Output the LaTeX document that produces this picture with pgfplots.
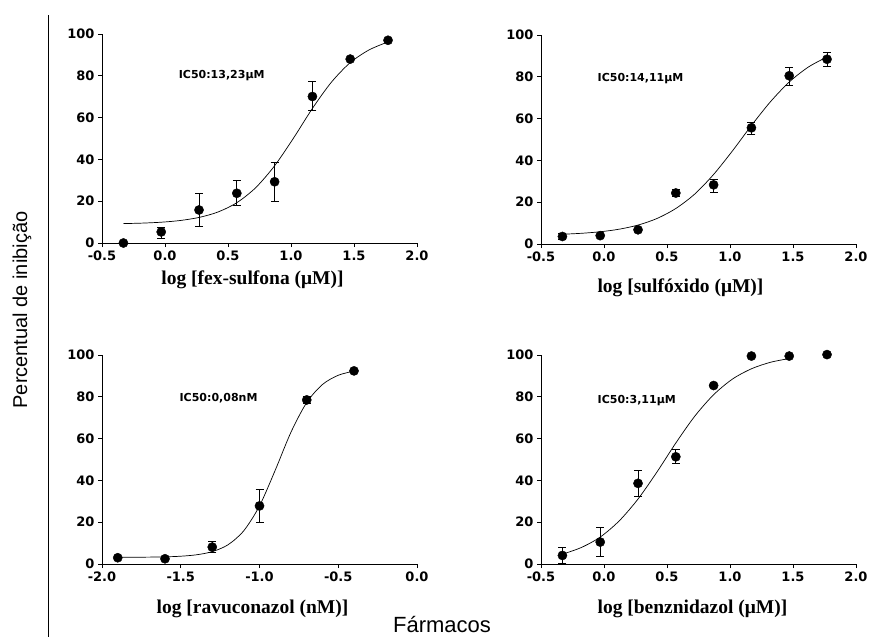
\documentclass[border=0pt]{standalone}
\usepackage{fontspec}
\setmainfont{Liberation Sans}
\newfontfamily\dvs{DejaVu Sans}
\newfontfamily\lserif{Liberation Serif}
\usepackage{pgfplots}
\pgfplotsset{compat=1.18}

\pgfplotsset{
  panel/.style={
    scale only axis, width=315pt, height=209pt,
    axis x line*=bottom, axis y line*=left,
    axis line style={line width=0.9pt, black},
    ymin=0, ymax=100, ytick={0,20,40,60,80,100},
    yticklabels={0,20,40,60,80,100},
    tick align=outside, major tick length=4pt,
    tick style={line width=0.9pt, black},
    tick label style={font=\dvs\bfseries\fontsize{13}{15}\selectfont},
    xlabel style={font=\lserif\bfseries\fontsize{19.5}{22}\selectfont},
    clip=false,
  },
  curve/.style={black, line width=0.7pt, smooth, no markers},
  pts/.style={black, only marks, mark=*, mark size=4.6pt,
    error bars/.cd, y dir=both, y explicit,
    error bar style={line width=0.9pt},
    error mark options={rotate=90, mark size=4pt, line width=0.9pt}},
}

\begin{document}
\begin{tikzpicture}
\useasboundingbox (0pt,0pt) rectangle (877pt,-637pt);
\draw[line width=0.9pt] (48pt,-15pt) -- (48pt,-637pt);
\node[rotate=90, font=\fontsize{20}{24}\selectfont] at (22pt,-310pt) {Percentual de inibição};
\node[font=\fontsize{22}{26}\selectfont] at (442pt,-624pt) {Fármacos};

% fex-sulfona
\begin{axis}[panel, at={(102pt,-243pt)}, anchor=south west,
  xmin=-0.5, xmax=2.0, xtick={-0.5,0,0.5,1,1.5,2},
  xticklabels={-0.5,0.0,0.5,1.0,1.5,2.0},
  xlabel={log [fex-sulfona (μM)]},
  every axis x label/.append style={xshift=-7pt, yshift=-4pt}]
\addplot[curve] coordinates {(-0.33,9.28) (-0.18,9.52) (-0.03,9.95) (0.12,10.76) (0.27,12.23) (0.42,14.82) (0.57,19.29) (0.72,26.48) (0.87,36.97) (1.02,50.2) (1.17,64.4) (1.32,76.9) (1.47,86.3) (1.62,92.4) (1.77,96.2)};
\addplot[pts] coordinates {
  (-0.33,0) += (0,0) -= (0,0)
  (-0.03,5.3) += (0,2.2) -= (0,2.9)
  (0.27,15.8) += (0,7.7) -= (0,7.8)
  (0.57,23.8) += (0,6.2) -= (0,5.9)
  (0.87,29.3) += (0,9.4) -= (0,9.3)
  (1.17,70.1) += (0,7.0) -= (0,6.6)
  (1.47,88.0) += (0,0) -= (0,0)
  (1.77,97.0) += (0,0) -= (0,0)};
\node[font=\dvs\bfseries\fontsize{11}{13}\selectfont] at (axis cs:0.45,80) {IC50:13,23μM};
\end{axis}

% sulfoxido
\begin{axis}[panel, at={(541pt,-244pt)}, anchor=south west,
  xmin=-0.5, xmax=2.0, xtick={-0.5,0,0.5,1,1.5,2},
  xticklabels={-0.5,0.0,0.5,1.0,1.5,2.0},
  xlabel={log [sulfóxido (μM)]},
  every axis x label/.append style={xshift=-18pt, yshift=-11pt}]
\addplot[curve] coordinates {(-0.33,4.67) (-0.18,5.12) (-0.03,5.86) (0.12,7.08) (0.27,9.06) (0.42,12.2) (0.57,17.0) (0.72,23.9) (0.87,33.3) (1.02,44.6) (1.17,56.7) (1.32,68.0) (1.47,77.5) (1.62,84.6) (1.77,89.5)};
\addplot[pts] coordinates {
  (-0.33,3.6) += (0,1.5) -= (0,1.5)
  (-0.03,4.0) += (0,0) -= (0,0)
  (0.27,6.8) += (0,0) -= (0,0)
  (0.57,24.4) += (0,1.5) -= (0,1.7)
  (0.87,28.3) += (0,2.7) -= (0,3.4)
  (1.17,55.6) += (0,2.7) -= (0,3.4)
  (1.47,80.5) += (0,4.1) -= (0,4.5)
  (1.77,88.4) += (0,3.3) -= (0,3.6)};
\node[font=\dvs\bfseries\fontsize{11}{13}\selectfont] at (axis cs:0.29,79) {IC50:14,11μM};
\end{axis}

% ravuconazol
\begin{axis}[panel, at={(102pt,-564pt)}, anchor=south west,
  xmin=-2.0, xmax=0.0, xtick={-2,-1.5,-1,-0.5,0},
  xticklabels={-2.0,-1.5,-1.0,-0.5,0.0},
  xlabel={log [ravuconazol (nM)]},
  every axis x label/.append style={xshift=-7pt, yshift=-12pt}]
\addplot[curve] coordinates {(-1.9,3.2) (-1.8,3.24) (-1.7,3.30) (-1.6,3.43) (-1.5,3.73) (-1.4,4.41) (-1.3,5.92) (-1.2,9.2) (-1.1,15.9) (-1.0,27.8) (-0.9,44.9) (-0.8,63.1) (-0.7,77.3) (-0.6,85.9) (-0.5,90.3) (-0.4,92.3)};
\addplot[pts] coordinates {
  (-1.9,3.0) += (0,0) -= (0,0)
  (-1.6,2.5) += (0,0) -= (0,0)
  (-1.3,8.1) += (0,2.6) -= (0,2.7)
  (-1.0,27.8) += (0,8.1) -= (0,7.9)
  (-0.7,78.5) += (0,1.6) -= (0,1.7)
  (-0.4,92.4) += (0,0) -= (0,0)};
\node[font=\dvs\bfseries\fontsize{11}{13}\selectfont] at (axis cs:-1.26,79.5) {IC50:0,08nM};
\end{axis}

% benznidazol
\begin{axis}[panel, at={(541pt,-564pt)}, anchor=south west,
  xmin=-0.5, xmax=2.0, xtick={-0.5,0,0.5,1,1.5,2},
  xticklabels={-0.5,0.0,0.5,1.0,1.5,2.0},
  xlabel={log [benznidazol (μM)]},
  every axis x label/.append style={xshift=-6pt, yshift=-12pt}]
\addplot[curve] coordinates {(-0.33,4.7) (-0.18,7.9) (-0.03,12.9) (0.12,20.6) (0.27,31.1) (0.42,44.0) (0.57,57.9) (0.72,70.7) (0.87,81.0) (1.02,88.5) (1.17,93.4) (1.32,96.5) (1.47,98.3)};
\addplot[pts] coordinates {
  (-0.33,4.1) += (0,3.8) -= (0,3.6)
  (-0.03,10.5) += (0,7.0) -= (0,7.0)
  (0.27,38.6) += (0,6.0) -= (0,6.4)
  (0.57,51.3) += (0,3.5) -= (0,3.4)
  (0.87,85.4) += (0,0) -= (0,0)
  (1.17,99.5) += (0,0) -= (0,0)
  (1.47,99.5) += (0,0) -= (0,0)
  (1.77,100.2) += (0,0) -= (0,0)};
\node[font=\dvs\bfseries\fontsize{11}{13}\selectfont] at (axis cs:0.26,78) {IC50:3,11μM};
\end{axis}
\end{tikzpicture}
\end{document}
